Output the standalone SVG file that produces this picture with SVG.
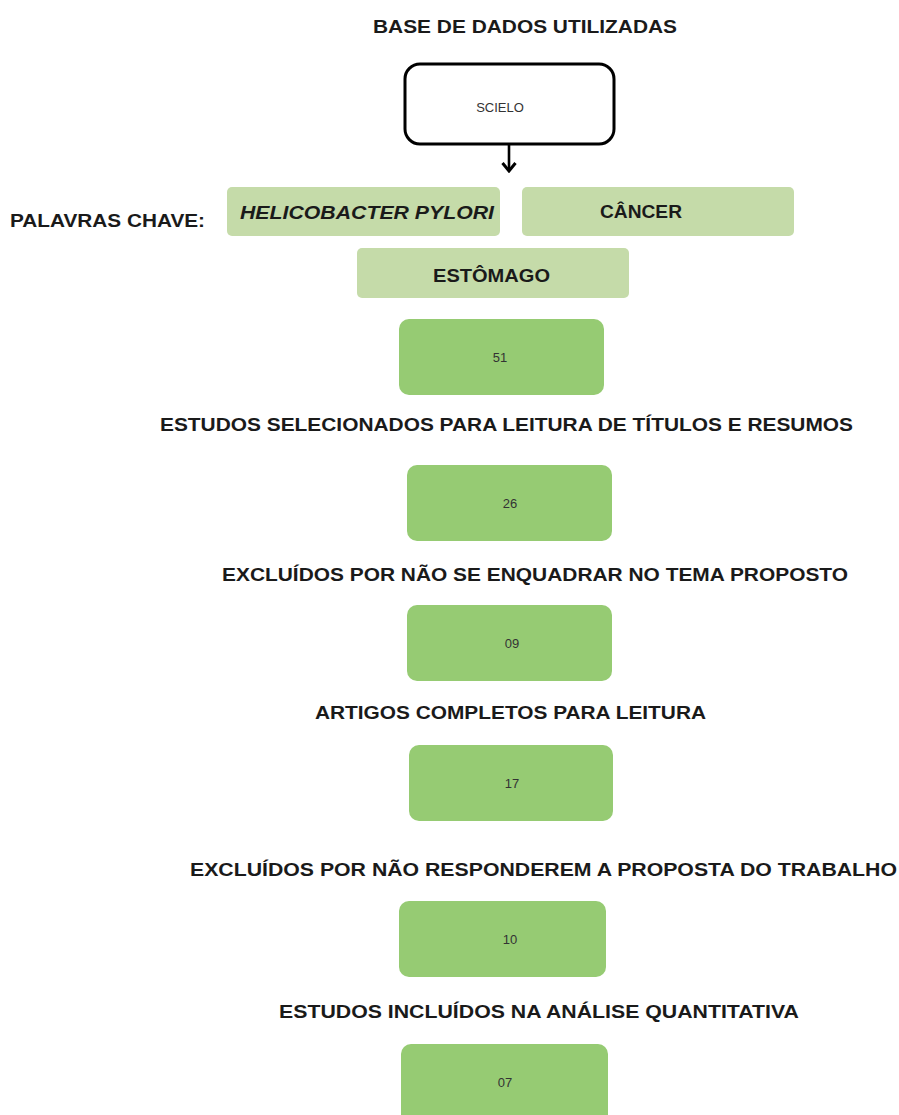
<svg xmlns="http://www.w3.org/2000/svg" width="899" height="1115" viewBox="0 0 899 1115">
<defs>
<marker id="arr" viewBox="0 0 12 16" refX="10" refY="8" markerWidth="12" markerHeight="16" markerUnits="userSpaceOnUse" orient="auto">
<path d="M2,1.5 L10,8 L2,14.5" fill="none" stroke="#000" stroke-width="3"/>
</marker>
<style>
.lbl{font-family:"Liberation Sans",Arial,sans-serif;font-weight:bold;font-size:18.5px;fill:#1a1a1a;text-anchor:start}
.kw{fill:#c5dba9}
.gn{fill:#96cb73}
.num{font-family:"Liberation Sans",Arial,sans-serif;font-size:13px;fill:#333;text-anchor:middle}
</style>
</defs>
<rect width="899" height="1115" fill="#fff"/>
<text class="lbl" x="373" y="33" textLength="304" lengthAdjust="spacingAndGlyphs">BASE  DE  DADOS  UTILIZADAS</text>
<g id="scielo">
<rect x="405" y="64" width="209" height="80" rx="15" fill="#fff" stroke="#000" stroke-width="3"/>
<text class="num" x="500" y="112" fill="#334">SCIELO</text>
</g>
<g id="connectors">
<line x1="509" y1="145" x2="509" y2="171" stroke="#000" stroke-width="2.6" marker-end="url(#arr)"/>
</g>
<text class="lbl" x="10" y="227" textLength="195" lengthAdjust="spacingAndGlyphs">PALAVRAS CHAVE:</text>
<g id="kw1">
<rect class="kw" x="227" y="187" width="273" height="49" rx="5"/>
<text class="lbl" x="240" y="219" font-style="italic" textLength="254" lengthAdjust="spacingAndGlyphs">HELICOBACTER PYLORI</text>
</g>
<g id="kw2">
<rect class="kw" x="522" y="187" width="272" height="49" rx="5"/>
<text class="lbl" x="600" y="218" textLength="82" lengthAdjust="spacingAndGlyphs">CÂNCER</text>
</g>
<g id="kw3">
<rect class="kw" x="357" y="248" width="272" height="50" rx="5"/>
<text class="lbl" x="433" y="282" textLength="117" lengthAdjust="spacingAndGlyphs">ESTÔMAGO</text>
</g>
<g id="n51">
<rect class="gn" x="399" y="319" width="205" height="76" rx="10"/>
<text class="num" x="500" y="362">51</text>
</g>
<text class="lbl" x="160" y="431" textLength="693" lengthAdjust="spacingAndGlyphs">ESTUDOS  SELECIONADOS  PARA LEITURA  DE TÍTULOS E RESUMOS</text>
<g id="n26">
<rect class="gn" x="407" y="465" width="205" height="76" rx="10"/>
<text class="num" x="510" y="508">26</text>
</g>
<text class="lbl" x="222" y="581" textLength="626" lengthAdjust="spacingAndGlyphs">EXCLUÍDOS  POR NÃO SE ENQUADRAR  NO TEMA PROPOSTO</text>
<g id="n09">
<rect class="gn" x="407" y="605" width="205" height="76" rx="10"/>
<text class="num" x="512" y="648">09</text>
</g>
<text class="lbl" x="315" y="719" textLength="391" lengthAdjust="spacingAndGlyphs">ARTIGOS COMPLETOS PARA LEITURA</text>
<g id="n17">
<rect class="gn" x="409" y="745" width="204" height="76" rx="10"/>
<text class="num" x="512" y="788">17</text>
</g>
<text class="lbl" x="190" y="876" textLength="707" lengthAdjust="spacingAndGlyphs">EXCLUÍDOS  POR NÃO RESPONDEREM  A PROPOSTA  DO TRABALHO</text>
<g id="n10">
<rect class="gn" x="399" y="901" width="207" height="76" rx="10"/>
<text class="num" x="510" y="944">10</text>
</g>
<text class="lbl" x="279" y="1018" textLength="520" lengthAdjust="spacingAndGlyphs">ESTUDOS  INCLUÍDOS  NA ANÁLISE QUANTITATIVA</text>
<g id="n07">
<rect class="gn" x="401" y="1044" width="207" height="90" rx="10"/>
<text class="num" x="505" y="1087">07</text>
</g>
</svg>
